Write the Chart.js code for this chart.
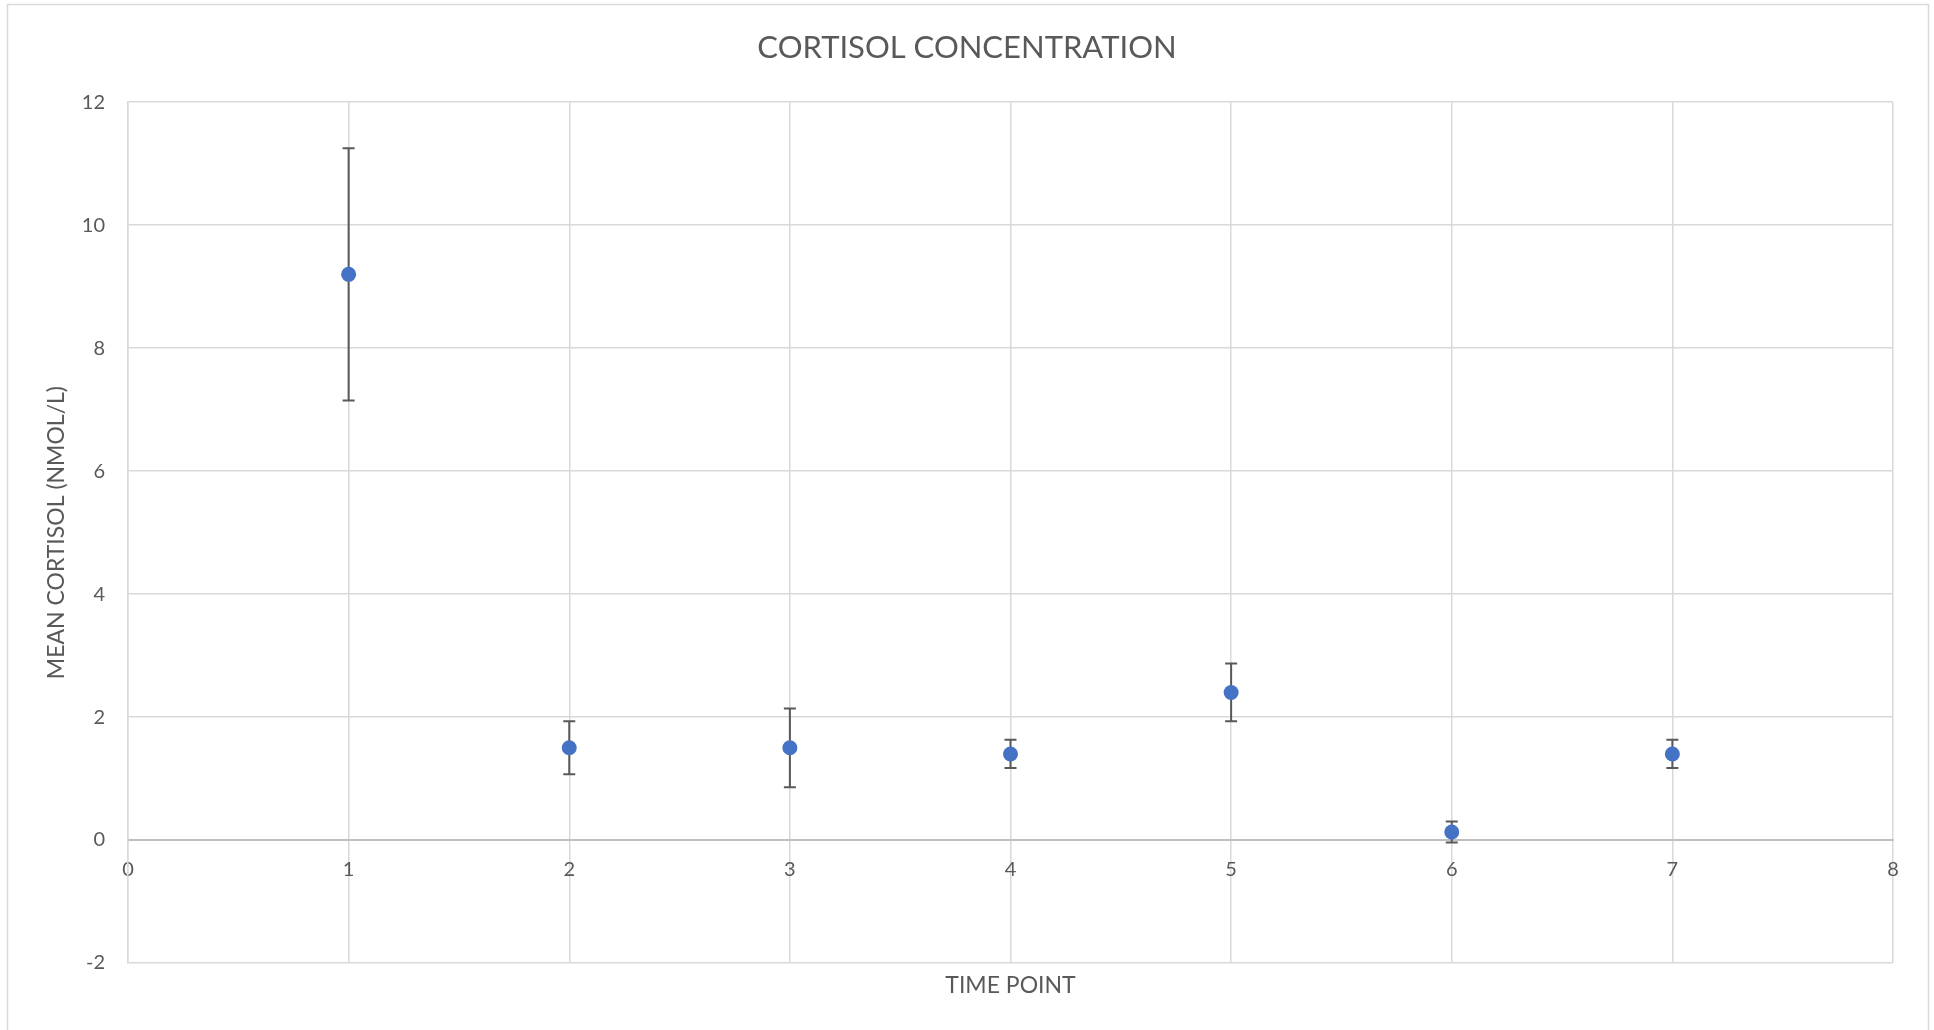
<!DOCTYPE html>
<html>
<head>
<meta charset="utf-8">
<script src="https://cdn.jsdelivr.net/npm/chart.js@4/dist/chart.umd.min.js"></script>
<style>
    html, body { margin: 0; padding: 0; background: #ffffff; }
    #wrap { width: 1934px; height: 1030px; position: relative; }
</style>
</head>
<body>
<div id="wrap"><canvas id="cortisolChart"></canvas></div>
<script>
const timePoints = [1, 2, 3, 4, 5, 6, 7];
const meanCortisol = [9.2, 1.5, 1.5, 1.4, 2.4, 0.13, 1.4];
const errorMargins = [2.05, 0.43, 0.64, 0.23, 0.47, 0.17, 0.23];

const xTicks = [0, 1, 2, 3, 4, 5, 6, 7, 8];
const yTicks = [-2, 0, 2, 4, 6, 8, 10, 12];

const textColor = '#595959';
const gridColor = '#d9d9d9';
const fontFamily = 'Lato, "Open Sans", sans-serif';

// whisker lines drawn under the points
const errorBars = {
    id: 'errorBars',
    beforeDatasetsDraw(chart) {
        const { ctx, scales } = chart;
        const x = scales.x;
        const y = scales.y;

        ctx.save();
        ctx.strokeStyle = textColor;
        ctx.lineWidth = 2;

        timePoints.forEach((t, i) => {
            const px = x.getPixelForValue(t);
            const top = y.getPixelForValue(meanCortisol[i] + errorMargins[i]);
            const bottom = y.getPixelForValue(meanCortisol[i] - errorMargins[i]);

            ctx.beginPath();
            ctx.moveTo(px, top);
            ctx.lineTo(px, bottom);
            ctx.moveTo(px - 6, top);
            ctx.lineTo(px + 6, top);
            ctx.moveTo(px - 6, bottom);
            ctx.lineTo(px + 6, bottom);
            ctx.stroke();
        });

        ctx.restore();
    },
};

const chartFrame = {
    id: 'chartFrame',
    beforeDraw(chart) {
        const { ctx } = chart;
        ctx.save();
        ctx.strokeStyle = gridColor;
        ctx.lineWidth = 1.5;
        ctx.strokeRect(7.5, 4.5, 1921, 1100);
        ctx.restore();
    },
};

new Chart(document.getElementById('cortisolChart'), {
    type: 'scatter',

    data: {
        datasets: [
            {
                data: timePoints.map((t, i) => ({ x: t, y: meanCortisol[i] })),
                backgroundColor: '#4472c4',
                borderColor: '#4472c4',
                pointRadius: 7.5,
                pointBorderWidth: 0,
            },
        ],
    },

    options: {
        responsive: true,
        maintainAspectRatio: false,
        animation: false,

        layout: {
            padding: { left: 41, right: 41, top: 0, bottom: 0 },
        },

        plugins: {
            legend: { display: false },
            tooltip: { enabled: false },

            title: {
                display: true,
                text: 'CORTISOL CONCENTRATION',
                color: textColor,
                font: { family: fontFamily, size: 31, weight: 'normal', lineHeight: 1.2 },
                padding: { top: 29, bottom: 36 },
            },
        },

        scales: {
            x: {
                type: 'linear',
                position: { y: 0 },
                min: 0,
                max: 8,
                afterBuildTicks(scale) {
                    scale.ticks = xTicks.map((v) => ({ value: v }));
                },

                grid: {
                    color: gridColor,
                    lineWidth: 1.5,
                    drawTicks: false,
                },

                border: {
                    color: '#bfbfbf',
                    width: 2,
                },

                ticks: {
                    color: textColor,
                    padding: 18,
                    font: { family: fontFamily, size: 20 },
                },
            },

            xTitle: {
                type: 'linear',
                axis: 'x',
                position: 'bottom',
                min: 0,
                max: 8,
                afterFit(scale) {
                    scale.height = 67;
                },

                grid: { display: false },
                border: { display: false },
                ticks: { display: false },

                title: {
                    display: true,
                    text: 'TIME POINT',
                    color: textColor,
                    font: { family: fontFamily, size: 23, lineHeight: 1.2 },
                    padding: { top: 0, bottom: 31 },
                },
            },

            y: {
                type: 'linear',
                position: 'left',
                min: -2,
                max: 12,
                afterBuildTicks(scale) {
                    scale.ticks = yTicks.map((v) => ({ value: v }));
                },
                afterFit(scale) {
                    scale.width = 87;
                },

                grid: {
                    color: gridColor,
                    lineWidth: 1.5,
                    drawTicks: false,
                },

                border: {
                    color: gridColor,
                    width: 1.5,
                },

                ticks: {
                    color: textColor,
                    padding: 23,
                    font: { family: fontFamily, size: 20 },
                },

                title: {
                    display: true,
                    text: 'MEAN CORTISOL (NMOL/L)',
                    color: textColor,
                    font: { family: fontFamily, size: 23, lineHeight: 1.2 },
                    padding: { top: 2, bottom: 0 },
                },
            },
        },
    },

    plugins: [chartFrame, errorBars],
});
</script>
</body>
</html>
